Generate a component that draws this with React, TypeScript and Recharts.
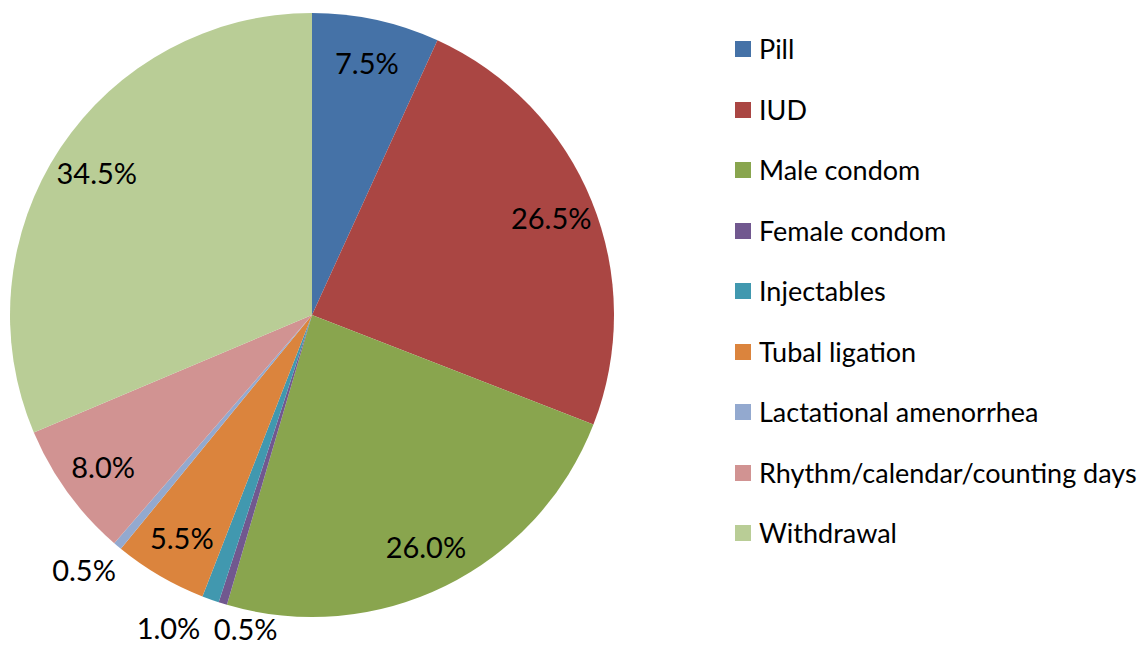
import React from "react";
import { PieChart, Pie, Cell, Legend } from "recharts";

const categories = [
  "Pill",
  "IUD",
  "Male condom",
  "Female condom",
  "Injectables",
  "Tubal ligation",
  "Lactational amenorrhea",
  "Rhythm/calendar/counting days",
  "Withdrawal",
];
const values = [7.5, 26.5, 26.0, 0.5, 1.0, 5.5, 0.5, 8.0, 34.5];
const colors = [
  "#4572A7",
  "#AA4643",
  "#89A54E",
  "#71588F",
  "#4198AF",
  "#DB843D",
  "#93A9CF",
  "#D19392",
  "#B9CD96",
];

const data = categories.map((name, i) => ({ name, value: values[i] }));

const FONT = "Lato, 'Open Sans', sans-serif";
const RAD = Math.PI / 180;

const outsideAnchor: Record<string, string> = {
  "Female condom": "start",
  Injectables: "end",
  "Lactational amenorrhea": "middle",
};

const renderLabel = (props: any) => {
  const { cx, cy, midAngle, outerRadius, value, name, percent } = props;
  const small = percent < 0.02;
  const r = small ? outerRadius * 1.1 : outerRadius * 0.855;
  const x = cx + r * Math.cos(-midAngle * RAD);
  const yRaw = cy + r * Math.sin(-midAngle * RAD);
  const y = Math.min(yRaw, 628);
  const anchor = small ? outsideAnchor[name] || "middle" : "middle";
  return (
    <text
      x={small && anchor === "middle" ? x - 14 : x}
      y={y}
      textAnchor={anchor}
      dominantBaseline="central"
      fill="#000"
      fontSize={29}
      fontFamily={FONT}
    >
      {`${Number(value).toFixed(1)}%`}
    </text>
  );
};

const LegendContent = () => (
  <div style={{ position: "relative", width: 403, height: 560 }}>
    {categories.map((c, i) => (
      <div
        key={c}
        style={{
          position: "absolute",
          left: 0,
          top: i * 60.5,
          height: 24,
          display: "flex",
          alignItems: "center",
          whiteSpace: "nowrap",
        }}
      >
        <div style={{ width: 16, height: 16, background: colors[i], marginRight: 8 }} />
        <span style={{ fontFamily: FONT, fontSize: 27, color: "#000", lineHeight: "24px" }}>{c}</span>
      </div>
    ))}
  </div>
);

export default function App() {
  return (
    <div style={{ position: "absolute", left: 0, top: 0, width: 1138, height: 647, background: "#fff" }}>
      <PieChart width={1138} height={647} margin={{ top: 0, right: 0, bottom: 0, left: 0 }}>
        <Pie
          data={data}
          dataKey="value"
          nameKey="name"
          cx={312}
          cy={315}
          outerRadius={302}
          startAngle={90}
          endAngle={-270}
          stroke="none"
          label={renderLabel}
          labelLine={false}
          isAnimationActive={false}
        >
          {data.map((d, i) => (
            <Cell key={d.name} fill={colors[i]} />
          ))}
        </Pie>
        <Legend
          content={LegendContent}
          wrapperStyle={{ left: 735, top: 37, width: 403, height: 560 }}
        />
      </PieChart>
    </div>
  );
}
